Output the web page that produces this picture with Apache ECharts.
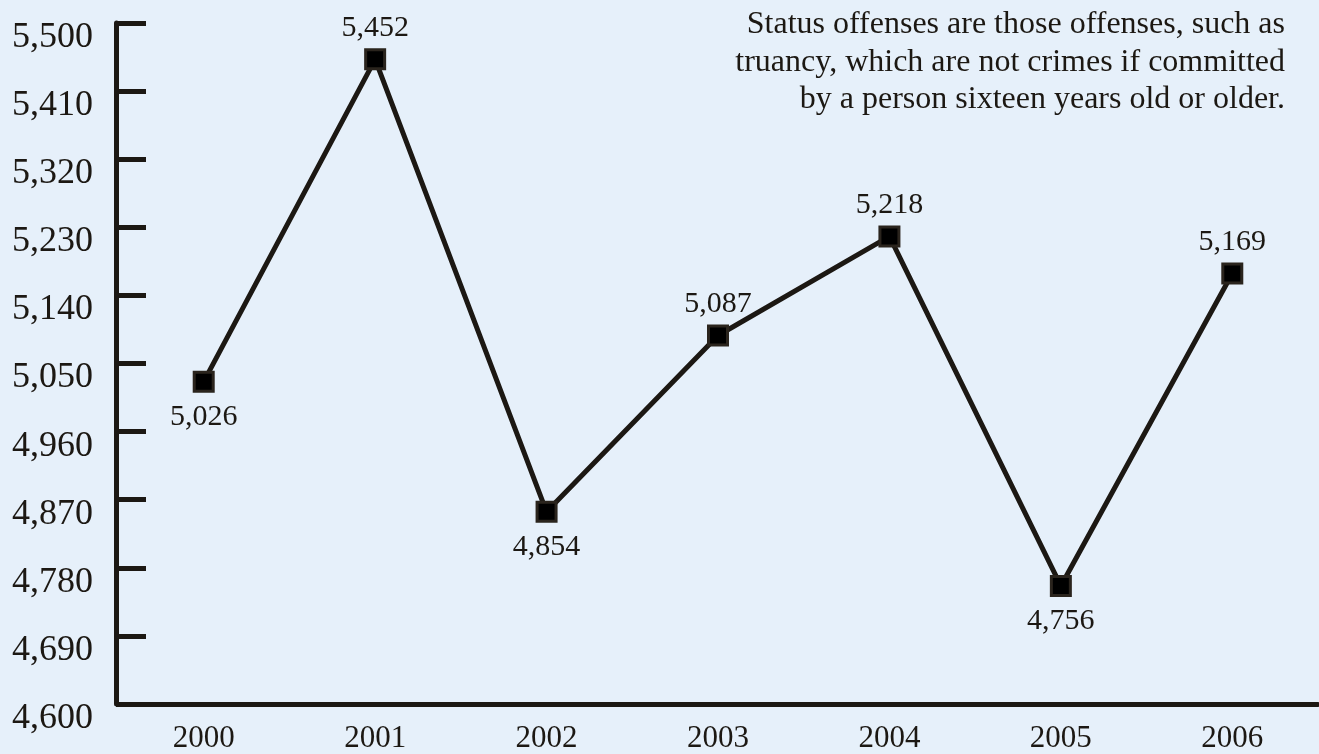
<!DOCTYPE html>
<html>
<head>
<meta charset="utf-8">
<script src="https://cdn.jsdelivr.net/npm/echarts@6/dist/echarts.min.js"></script>
<style>
html,body{margin:0;padding:0;background:#e6f0fa;}
#chart{width:1319px;height:754px;background:#e6f0fa;}
</style>
</head>
<body>
<div id="chart"></div>
<script>
var years = ['2000','2001','2002','2003','2004','2005','2006'];
var offenses = [5026, 5452, 4854, 5087, 5218, 4756, 5169];
var yMin = 4600, yMax = 5500, yStep = 90;
var noteLines = [
  'Status offenses are those offenses, such as',
  'truancy, which are not crimes if committed',
  'by a person sixteen years old or older.'
];

var FONT = 'Liberation Serif';
var INK = '#1c1813';

function isLow(i) {
  var v = offenses[i];
  var prev = i > 0 ? offenses[i - 1] : Infinity;
  var next = i < offenses.length - 1 ? offenses[i + 1] : Infinity;
  return v < prev && v < next;
}

var chart = echarts.init(document.getElementById('chart'));
chart.setOption({
  textStyle: { fontFamily: FONT },
  animationDuration: 400,
  grid: { left: 118, right: 1, top: 23, bottom: 46 },
  xAxis: {
    type: 'category',
    data: years,
    boundaryGap: true,
    axisLine: { show: true, lineStyle: { color: INK, width: 5 } },
    axisTick: { show: false },
    axisLabel: { color: INK, fontFamily: FONT, fontSize: 31, margin: 19 }
  },
  yAxis: {
    type: 'value',
    min: yMin, max: yMax, interval: yStep,
    offset: 2,
    axisLine: { show: true, lineStyle: { color: INK, width: 5 } },
    axisTick: { show: true, inside: true, length: 30, lineStyle: { color: INK, width: 5 } },
    splitLine: { show: false },
    axisLabel: {
      color: INK, fontFamily: FONT, fontSize: 36, margin: 23,
      verticalAlign: 'top', lineHeight: 29,
      formatter: function (v) { return v.toLocaleString('en-US'); }
    }
  },
  series: [{
    type: 'line',
    data: offenses.map(function (v, i) {
      var low = isLow(i);
      return {
        value: v,
        label: { position: low ? 'bottom' : 'top', distance: low ? 9 : 5 }
      };
    }),
    lineStyle: { color: INK, width: 5 },
    symbol: 'rect',
    symbolSize: 19,
    itemStyle: { color: '#000', borderColor: '#2a241d', borderWidth: 3 },
    label: {
      show: true, color: INK, fontFamily: FONT, fontSize: 30,
      formatter: function (p) { return p.value.toLocaleString('en-US'); }
    },
    z: 3
  }],
  graphic: noteLines.map(function (t, i) {
    return {
      type: 'text',
      x: 1285,
      y: 25 + i * 37.5,
      style: { text: t, fill: INK, font: '32px Liberation Serif', align: 'right', verticalAlign: 'middle' }
    };
  })
});
</script>
</body>
</html>
